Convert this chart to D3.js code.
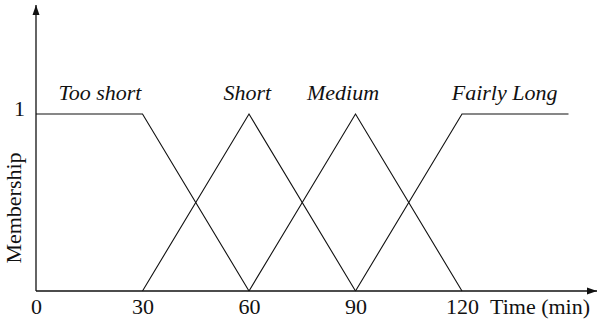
<!DOCTYPE html>
<html><head><meta charset="utf-8">
<script src="https://cdn.jsdelivr.net/npm/d3@7"></script>
<style>body{margin:0;background:#fff}svg{display:block}text{font-family:"Liberation Serif","DejaVu Serif",serif;fill:#111}</style>
</head><body><svg id="c" width="597" height="320"></svg>
<script>
const xTicks = [0, 30, 60, 90, 120];
const yTicks = [1];
const sets = ["Too short", "Short", "Medium", "Fairly Long"];
const setX = [[0, 30, 60], [30, 60, 90], [60, 90, 120], [90, 120, 150]];
const setY = [[1, 1, 0], [0, 1, 0], [0, 1, 0], [0, 1, 1]];
const labelX = [18, 59.5, 86.5, 132];

const FS = 22;
const svg = d3.select("#c");
const x = d3.scaleLinear().domain([0, 120]).range([36, 462]);
const y = d3.scaleLinear().domain([0, 1]).range([291, 114]);

const line = d3.line().x(d => x(d[0])).y(d => y(d[1]));
sets.forEach((s, i) => {
  const pts = setX[i].map((v, j) => [v, setY[i][j]]);
  svg.append("path").attr("d", line(pts)).attr("fill", "none")
    .attr("stroke", "#111").attr("stroke-width", 1.1);
  svg.append("text").attr("x", x(labelX[i])).attr("y", 100)
    .attr("text-anchor", "middle").attr("font-style", "italic")
    .attr("font-size", FS).text(s);
});

const defs = svg.append("defs");
defs.append("marker").attr("id", "ar").attr("viewBox", "0 0 10 10")
  .attr("refX", 10).attr("refY", 5).attr("markerWidth", 10).attr("markerHeight", 10)
  .attr("markerUnits", "userSpaceOnUse").attr("orient", "auto")
  .append("path").attr("d", "M0,1.5 L10,5 L0,8.5 Z").attr("fill", "#111");

svg.append("line").attr("x1", x(0)).attr("y1", y(0)).attr("x2", 597).attr("y2", y(0))
  .attr("stroke", "#111").attr("stroke-width", 1.3).attr("marker-end", "url(#ar)");
svg.append("line").attr("x1", x(0)).attr("y1", y(0)).attr("x2", x(0)).attr("y2", 5)
  .attr("stroke", "#111").attr("stroke-width", 1.3).attr("marker-end", "url(#ar)");

const xa = svg.append("g").attr("transform", `translate(0,${y(0)})`)
  .call(d3.axisBottom(x).tickValues(xTicks).tickSize(0).tickPadding(7));
xa.select(".domain").remove();
xa.selectAll("text").attr("font-size", FS).attr("fill", "#111");

const ya = svg.append("g").attr("transform", `translate(${x(0)},0)`)
  .call(d3.axisLeft(y).tickValues(yTicks).tickFormat(d3.format("d")).tickSize(0).tickPadding(11));
ya.select(".domain").remove();
ya.selectAll("text").attr("font-size", FS).attr("fill", "#111").attr("dy", "0.05em");

svg.append("text").attr("x", 490).attr("y", 314).attr("font-size", FS).text("Time (min)");
svg.append("text").attr("transform", "translate(21,208) rotate(-90)")
  .attr("text-anchor", "middle").attr("font-size", FS).text("Membership");
</script></body></html>
